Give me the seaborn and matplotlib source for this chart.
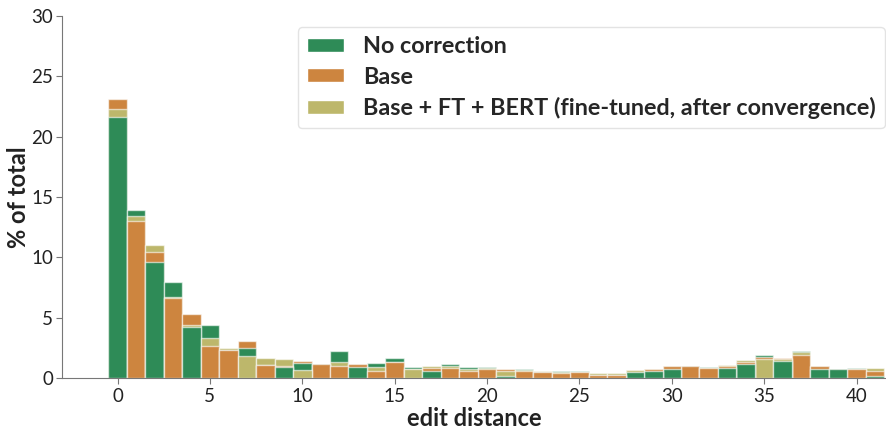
import pandas as pd
import matplotlib
matplotlib.use("Agg")
import matplotlib.pyplot as plt
from matplotlib.patches import Patch
import seaborn as sns

# Share of samples (%) per edit distance
edit_distance = list(range(42))
no_correction = [21.6, 13.9, 9.6, 7.95, 4.2, 4.35, 2.32, 2.5, 1.07, 0.93,
                 1.2, 1.14, 2.25, 0.88, 1.2, 1.65, 0.88, 0.55, 1.13, 0.9,
                 0.9, 0.2, 0.75, 0.53, 0.55, 0.56, 0.28, 0.28, 0.45, 0.55,
                 0.72, 0.98, 0.9, 0.8, 1.13, 1.92, 1.38, 2.25, 0.78, 0.75,
                 0.85, 0.2]
base = [23.1, 13.0, 10.4, 6.65, 5.3, 2.65, 2.3, 3.05, 1.05, 1.0,
        1.4, 1.12, 1.0, 1.12, 0.58, 1.3, 0.76, 0.8, 0.8, 0.6,
        0.78, 0.75, 0.6, 0.52, 0.42, 0.45, 0.27, 0.27, 0.66, 0.7,
        0.95, 0.97, 0.85, 1.0, 1.32, 1.72, 1.68, 1.92, 0.95, 0.76,
        0.75, 0.6]
base_ft_bert = [22.3, 13.4, 11.0, 6.67, 4.4, 3.3, 2.5, 1.85, 1.65, 1.55,
                0.65, 1.14, 1.35, 1.16, 0.93, 1.32, 0.75, 1.0, 1.0, 0.78,
                0.8, 0.55, 0.62, 0.56, 0.5, 0.45, 0.4, 0.4, 0.65, 0.75,
                1.0, 0.98, 0.86, 1.03, 1.48, 1.55, 1.6, 2.12, 1.0, 0.76,
                0.78, 0.8]

labels = ["No correction", "Base", "Base + FT + BERT (fine-tuned, after convergence)"]
colors = ["seagreen", "peru", "darkkhaki"]

frames = []
for lab, vals in zip(labels, [no_correction, base, base_ft_bert]):
    frames.append(pd.DataFrame({"edit distance": edit_distance, "pct": vals, "method": lab}))
df = pd.concat(frames, ignore_index=True)

sns.set_style("ticks")
plt.rcParams["font.family"] = ["Lato", "DejaVu Sans"]

fig, ax = plt.subplots(figsize=(8.87, 4.28), dpi=100)
sns.histplot(data=df, x="edit distance", weights="pct", hue="method",
             hue_order=labels, palette=colors, discrete=True, multiple="layer",
             alpha=1, edgecolor=(1, 1, 1, 0.6), linewidth=1, legend=False, ax=ax)

# shorter bars in front of taller ones
for p in ax.patches:
    p.set_zorder(2 - p.get_height() / 100)

ax.set_xlim(-3, 41.65)
ax.set_ylim(0, 30)
ax.set_xticks(range(0, 41, 5))
ax.set_yticks(range(0, 31, 5))
ax.tick_params(labelsize=13.5, color="#777777", labelcolor="#222222", length=4)
ax.tick_params(axis="y", pad=2.5)
for s in ["left", "bottom"]:
    ax.spines[s].set_color("#777777")
sns.despine(ax=ax)

ax.set_xlabel("edit distance", fontsize=17, fontweight="bold", color="#222222", labelpad=1)
ax.set_ylabel("% of total", fontsize=17, fontweight="bold", color="#222222")
ax.yaxis.set_label_coords(-0.039, 0.5)

handles = [Patch(facecolor=c, label=l) for c, l in zip(colors, labels)]
leg = ax.legend(handles=handles, loc="upper right", bbox_to_anchor=(0.9976, 0.9696),
                borderaxespad=0, prop={"weight": "bold", "size": 16.8},
                handlelength=1.6, handleheight=0.55, handletextpad=0.8,
                frameon=True, fancybox=True, labelspacing=0.4, borderpad=0.4)
leg.get_frame().set_edgecolor("#dddddd")

plt.subplots_adjust(left=0.07, right=1.0, top=0.963, bottom=0.117)
plt.savefig("out.png", dpi=100)
